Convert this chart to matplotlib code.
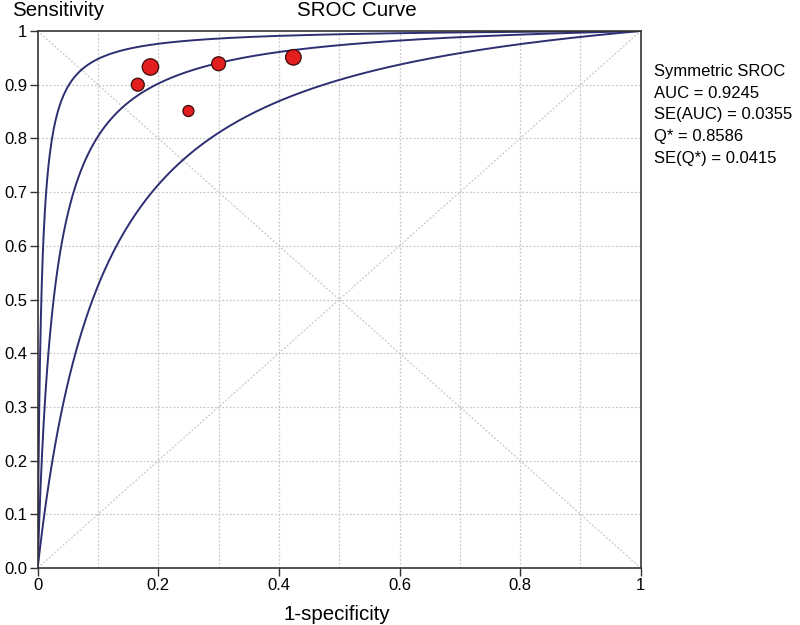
import numpy as np
import matplotlib
matplotlib.use("Agg")
import matplotlib.pyplot as plt

plt.rcParams["font.family"] = ["Liberation Sans", "DejaVu Sans"]

# Study points (1-specificity, sensitivity) and relative study weights
study_fpr = [0.166, 0.187, 0.250, 0.300, 0.424]
study_tpr = [0.900, 0.933, 0.851, 0.939, 0.951]
study_weight = [0.62, 1.00, 0.45, 0.72, 0.90]

# Symmetric SROC: diagnostic log odds ratio D for curve and its bounds
D_mid = 3.607
D_upper = 5.10
D_lower = 2.30

stats_lines = [
    "Symmetric SROC",
    "AUC = 0.9245",
    "SE(AUC) = 0.0355",
    "Q* = 0.8586",
    "SE(Q*) = 0.0415",
]

x_ticks = [0, 0.2, 0.4, 0.6, 0.8, 1]
x_ticklabels = ["0", "0.2", "0.4", "0.6", "0.8", "1"]
y_ticks = [0.0, 0.1, 0.2, 0.3, 0.4, 0.5, 0.6, 0.7, 0.8, 0.9, 1.0]
y_ticklabels = ["0.0", "0.1", "0.2", "0.3", "0.4", "0.5", "0.6", "0.7", "0.8", "0.9", "1"]


def sroc(fpr, d):
    fpr = np.clip(fpr, 1e-9, 1 - 1e-9)
    return 1.0 / (1.0 + np.exp(-d) * (1 - fpr) / fpr)


fig = plt.figure(figsize=(8, 6.25), dpi=100)
ax = fig.add_axes([0.0471, 0.0912, 0.7538, 0.8592])

grid_kw = dict(color="#c8c8c8", linestyle=(0, (1.5, 1.5)), linewidth=0.9, zorder=0)
for g in np.arange(0.1, 1.0, 0.1):
    ax.axvline(g, **grid_kw)
    ax.axhline(g, **grid_kw)
ax.plot([0, 1], [0, 1], **grid_kw)
ax.plot([0, 1], [1, 0], **grid_kw)

f = np.concatenate([np.linspace(0, 0.02, 400), np.linspace(0.02, 1, 600)])
for d in (D_upper, D_mid, D_lower):
    ax.plot(f, sroc(f, d), color="#2e2e72", linewidth=1.4, zorder=2)

sizes = [w * 140 for w in study_weight]
ax.scatter(study_fpr, study_tpr, s=sizes, color="#e31e1e", edgecolors="#3a0a0a",
           linewidths=0.9, zorder=3)

ax.set_xlim(0, 1)
ax.set_ylim(0, 1)
ax.set_xticks(x_ticks)
ax.set_xticklabels(x_ticklabels, fontsize=12)
ax.set_yticks(y_ticks)
ax.set_yticklabels(y_ticklabels, fontsize=12)
ax.tick_params(direction="out", length=5.5, width=1, color="#333333", pad=2)
for sp in ax.spines.values():
    sp.set_linewidth(1.2)
    sp.set_color("#333333")

fig.text(0.015, 0.983, "Sensitivity", fontsize=14.8, va="center", ha="left")
fig.text(0.446, 0.983, "SROC Curve", fontsize=14.8, va="center", ha="center")
fig.text(0.421, 0.017, "1-specificity", fontsize=14.8, va="center", ha="center")

for i, line in enumerate(stats_lines):
    fig.text(0.818, 0.885 - i * 0.0345, line, fontsize=12.0, va="center", ha="left")

fig.savefig("out.png", dpi=100)
